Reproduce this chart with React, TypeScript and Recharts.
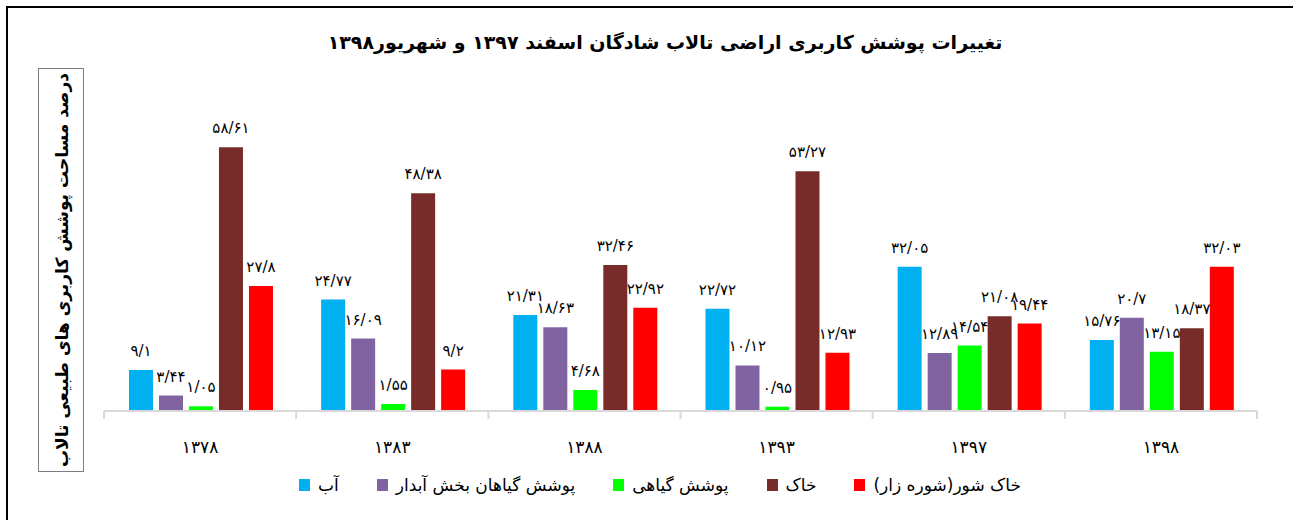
import React from "react";
import { BarChart, Bar, XAxis, YAxis, LabelList } from "recharts";

const years = ["۱۳۷۸", "۱۳۸۳", "۱۳۸۸", "۱۳۹۳", "۱۳۹۷", "۱۳۹۸"];

const water = [9.1, 24.77, 21.31, 22.72, 32.05, 15.76];
const wetVeg = [3.44, 16.09, 18.63, 10.12, 12.89, 20.7];
const veg = [1.05, 1.55, 4.68, 0.95, 14.54, 13.15];
const soil = [58.61, 48.38, 32.46, 53.27, 21.08, 18.37];
const saltSoil = [27.8, 9.2, 22.92, 12.93, 19.44, 32.03];

const series = [
  { key: "water", name: "آب", color: "#00B0F0", values: water },
  { key: "wetVeg", name: "پوشش گیاهان بخش آبدار", color: "#8064A2", values: wetVeg },
  { key: "veg", name: "پوشش گیاهی", color: "#00FF00", values: veg },
  { key: "soil", name: "خاک", color: "#772C2A", values: soil },
  { key: "saltSoil", name: "خاک شور(شوره زار)", color: "#FF0000", values: saltSoil },
];

const data = years.map((year, i) => {
  const row: Record<string, string | number> = { year };
  series.forEach((s) => {
    row[s.key] = s.values[i];
  });
  return row;
});

const FONT = "'DejaVu Sans', sans-serif";
const W = 1293;
const H = 520;
const M = { top: 96, left: 104, right: 36, bottom: 69 };
const BAND = (W - M.left - M.right) / years.length;

const persian = (s: string) =>
  s.replace(/[0-9]/g, (d) => "۰۱۲۳۴۵۶۷۸۹"[Number(d)]).replace(".", "/");

function YearTick(props: any) {
  const { x, y, payload, index } = props;
  const last = index === years.length - 1;
  return (
    <g>
      <line x1={x - BAND / 2} x2={x - BAND / 2} y1={y} y2={y + 8} stroke="#d9d9d9" strokeWidth={2} />
      {last && (
        <line x1={x + BAND / 2} x2={x + BAND / 2} y1={y} y2={y + 8} stroke="#d9d9d9" strokeWidth={2} />
      )}
      <text x={x} y={y + 42} textAnchor="middle" fontSize={17} fontFamily={FONT} fill="#000">
        {payload.value}
      </text>
    </g>
  );
}

export default function App() {
  return (
    <div style={{ position: "absolute", left: 0, top: 0, width: W, height: H, overflow: "hidden", background: "#fff" }}>
      <div
        style={{
          position: "absolute",
          left: 6,
          top: 6,
          width: W,
          height: H,
          border: "2px solid #000",
          boxSizing: "border-box",
        }}
      />
      <div
        style={{
          position: "absolute",
          left: 165,
          top: 31,
          width: 1000,
          textAlign: "center",
          direction: "rtl",
          fontFamily: FONT,
          fontWeight: "bold",
          fontSize: 19,
          color: "#000",
        }}
      >
        تغییرات پوشش کاربری اراضی تالاب شادگان اسفند ۱۳۹۷ و شهریور۱۳۹۸
      </div>
      <div
        style={{
          position: "absolute",
          left: 38,
          top: 68,
          width: 46,
          height: 404,
          border: "1.5px solid #7f7f7f",
          boxSizing: "border-box",
        }}
      >
        <div
          style={{
            position: "absolute",
            left: (46 - 404) / 2,
            top: (404 - 46) / 2,
            width: 404,
            height: 44,
            lineHeight: "44px",
            textAlign: "center",
            direction: "rtl",
            transform: "rotate(-90deg)",
            fontFamily: FONT,
            fontWeight: "bold",
            fontSize: 17,
            color: "#000",
          }}
        >
          درصد مساحت پوشش کاربری های طبیعی تالاب
        </div>
      </div>
      <div style={{ position: "absolute", left: 0, top: 0 }}>
        <BarChart width={W} height={H} data={data} margin={M} barCategoryGap="13%" barGap={6}>
          <XAxis
            dataKey="year"
            height={40}
            axisLine={{ stroke: "#d9d9d9", strokeWidth: 2 }}
            tickLine={false}
            tickSize={0}
            tickMargin={0}
            interval={0}
            tick={<YearTick />}
          />
          <YAxis hide domain={[0, 70]} />
          {series.map((s) => (
            <Bar key={s.key} dataKey={s.key} name={s.name} fill={s.color} isAnimationActive={false}>
              <LabelList
                dataKey={s.key}
                position="top"
                offset={14}
                formatter={(v: any) => persian(String(v))}
                style={{ fontFamily: FONT, fontSize: 15, fill: "#000" }}
              />
            </Bar>
          ))}
        </BarChart>
      </div>
      <div
        style={{
          position: "absolute",
          left: 0,
          top: 475,
          width: 1320,
          display: "flex",
          justifyContent: "center",
          gap: 38,
          fontFamily: FONT,
          fontSize: 17,
          color: "#000",
        }}
      >
        {series.map((s) => (
          <div key={s.key} style={{ display: "flex", alignItems: "center", gap: 8 }}>
            <span style={{ display: "inline-block", width: 11, height: 12, background: s.color }} />
            <span style={{ direction: "rtl" }}>{s.name}</span>
          </div>
        ))}
      </div>
    </div>
  );
}
